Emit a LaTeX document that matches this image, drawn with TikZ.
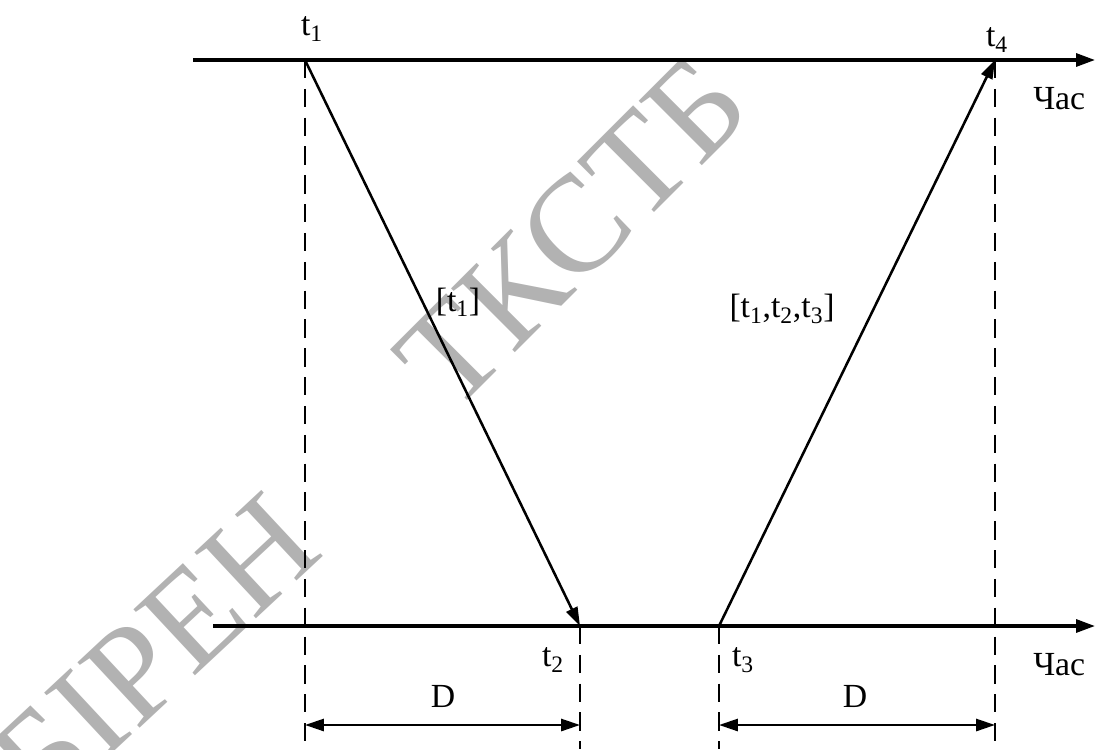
\documentclass[tikz,border=0pt]{standalone}
\usepackage{fontspec}
\setmainfont{Liberation Serif}
\usetikzlibrary{arrows.meta, positioning, calc}
\definecolor{wmgray}{RGB}{178,178,178}

\begin{document}
\begin{tikzpicture}[
    x=0.025cm, y=-0.025cm,
    lbl/.style={inner sep=0pt, font=\fontsize{24}{28}\selectfont},
    wm/.style={inner sep=0pt, text=wmgray, font=\fontsize{98}{100}\selectfont},
    axis/.style={line width=2.3pt, -{Triangle[length=0.47cm, width=0.32cm]}},
    msg/.style={line width=1.8pt, -{Triangle[length=0.47cm, width=0.3cm]}},
    guide/.style={line width=1.9pt, dash pattern=on 13pt off 7.5pt},
    dim/.style={line width=1.8pt, {Triangle[length=0.47cm, width=0.3cm]}-{Triangle[length=0.47cm, width=0.3cm]}},
]
    \useasboundingbox (0,0) rectangle (1095,749);

    % watermark
    \node[wm, rotate=45] (wmtop) at (572,232) {ТКСТБ};
    \node[wm, rotate=43] (wmbot) at (155,652) {БІРЕН};

    % time points
    \coordinate (t1) at (305,60);
    \coordinate (t4) at (995,60);
    \coordinate (t2) at (580,626);
    \coordinate (t3) at (719,626);
    \coordinate (a1) at (193,60);
    \coordinate (a2) at (1095,60);
    \coordinate (b1) at (213,626);
    \coordinate (b2) at (1095,626);

    % axes
    \draw[axis] (a1) -- (a2);
    \draw[axis] (b1) -- (b2);

    % guides
    \draw[guide] (t1) -- (t1 |- 0,749);
    \draw[guide] (t4) -- (t4 |- 0,749);
    \draw[guide] (t2) -- (t2 |- 0,749);
    \draw[guide] (t3) -- (t3 |- 0,749);

    % messages
    \draw[msg] (t1) -- (t2);
    \draw[msg] (t3) -- (t4);

    % delays
    \coordinate (d1) at (t1 |- 0,725);
    \coordinate (d2) at (t2 |- 0,725);
    \coordinate (d3) at (t3 |- 0,725);
    \coordinate (d4) at (t4 |- 0,725);
    \draw[dim] (d1) -- (d2);
    \draw[dim] (d3) -- (d4);

    % labels
    \node[lbl] (lt1) at (312,29) {t\textsubscript{1}};
    \node[lbl] (lt4) at (997,40) {t\textsubscript{4}};
    \node[lbl] (lt2) at (553,660) {t\textsubscript{2}};
    \node[lbl] (lt3) at (743,660) {t\textsubscript{3}};
    \node[lbl, anchor=west] (clk1) at (1033,99) {Час};
    \node[lbl, anchor=west] (clk2) at (1033,665) {Час};
    \node[lbl] (m1) at (458,302) {[t\textsubscript{1}]};
    \node[lbl] (m2) at (782,309) {[t\textsubscript{1},t\textsubscript{2},t\textsubscript{3}]};
    \node[lbl] (dl1) at (443,696) {D};
    \node[lbl] (dl2) at (855,696) {D};
\end{tikzpicture}
\end{document}
